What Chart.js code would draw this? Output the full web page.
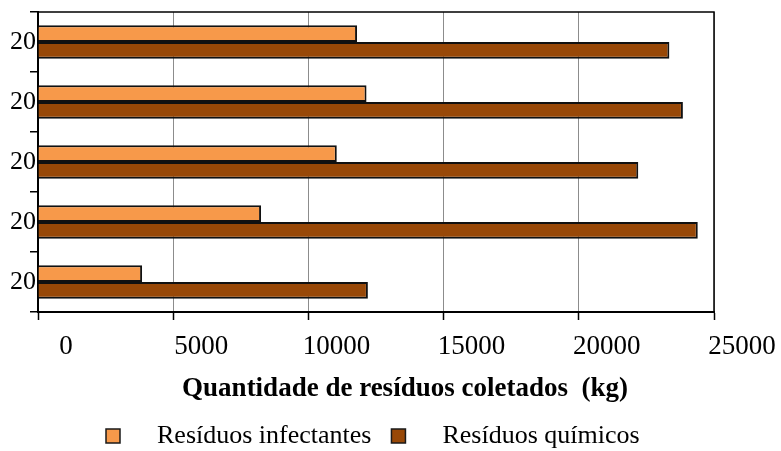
<!DOCTYPE html>
<html>
<head>
<meta charset="utf-8">
<script src="https://cdn.jsdelivr.net/npm/chart.js@4/dist/chart.umd.min.js"></script>
<style>
  html, body { margin: 0; padding: 0; background: #ffffff; }
  #wrap { width: 781px; height: 451px; }
</style>
</head>
<body>
<div id="wrap"><canvas id="c" width="781" height="451"></canvas></div>
<script>
// Categories (year labels as printed) and collected waste in kg
const categories = ['20', '20', '20', '20', '20'];
const infectantes = [11800, 12150, 11050, 8250, 3850];
const quimicos = [23350, 23850, 22200, 24400, 12200];
const seriesNames = ['Resíduos infectantes', 'Resíduos químicos'];
const seriesColors = ['#F7994A', '#984807'];
const xTickMin = 0;
const xTickMax = 25000;
const xTickStep = 5000;
const axisTitle = 'Quantidade de resíduos coletados  (kg)';

const SERIF = '"Liberation Serif", "Times New Roman", serif';

// Top and right frame of the plot area, axis title and legend
const framePlugin = {
  id: 'frameAndLegend',
  afterDraw(chart) {
    const { ctx, chartArea: a } = chart;
    ctx.save();
    ctx.strokeStyle = '#000000';
    ctx.lineWidth = 1.5;
    ctx.beginPath();
    ctx.moveTo(a.left, a.top);
    ctx.lineTo(a.right, a.top);
    ctx.lineTo(a.right, a.bottom);
    ctx.stroke();

    // axis title
    ctx.fillStyle = '#000000';
    ctx.font = 'bold 27px ' + SERIF;
    ctx.textAlign = 'center';
    ctx.textBaseline = 'alphabetic';
    ctx.fillText(axisTitle, (a.left + a.right) / 2 + 29, 396);

    // legend
    const box = 14;
    const gap = 37;
    const itemGap = 20;
    let x = 106;
    const baseY = 443;
    chart.data.datasets.forEach((ds) => {
      ctx.fillStyle = ds.backgroundColor;
      ctx.fillRect(x, baseY - 14, box, box);
      ctx.strokeStyle = '#1a1a1a';
      ctx.lineWidth = 1.5;
      ctx.strokeRect(x, baseY - 14, box, box);
      const tx = x + box + gap;
      ctx.fillStyle = '#000000';
      ctx.font = '26px ' + SERIF;
      ctx.textAlign = 'left';
      ctx.fillText(ds.label, tx, baseY);
      x = tx + ctx.measureText(ds.label).width + itemGap;
    });
    ctx.restore();
  }
};

new Chart(document.getElementById('c'), {
  type: 'bar',
  data: {
    labels: categories,
    datasets: [
      {
        label: seriesNames[0],
        data: infectantes,
        backgroundColor: seriesColors[0],
        borderColor: '#111111',
        borderWidth: 2,
        categoryPercentage: 0.56,
        barPercentage: 1.0
      },
      {
        label: seriesNames[1],
        data: quimicos,
        backgroundColor: seriesColors[1],
        borderColor: '#111111',
        borderWidth: 2,
        categoryPercentage: 0.56,
        barPercentage: 1.0
      }
    ]
  },
  options: {
    indexAxis: 'y',
    responsive: false,
    animation: false,
    layout: { padding: { top: 12, right: 67, left: 0, bottom: 0 } },
    plugins: {
      legend: { display: false },
      tooltip: { enabled: false }
    },
    scales: {
      x: {
        type: 'linear',
        min: xTickMin,
        max: xTickMax,
        ticks: {
          stepSize: xTickStep,
          color: '#000000',
          font: { family: SERIF, size: 27 },
          labelOffset: 28,
          padding: 11,
          maxRotation: 0,
          callback: (v) => String(v)
        },
        grid: {
          color: '#8c8c8c',
          lineWidth: 1,
          tickColor: '#000000',
          tickLength: 8,
          tickWidth: 1.5
        },
        border: { display: true, color: '#000000', width: 2 },
        afterFit(scale) { scale.height = 139; }
      },
      y: {
        type: 'category',
        ticks: {
          color: '#000000',
          font: { family: SERIF, size: 26 },
          padding: -6
        },
        grid: {
          offset: true,
          drawOnChartArea: false,
          color: '#000000',
          lineWidth: 1.5,
          tickLength: 8
        },
        border: { display: true, color: '#000000', width: 2 },
        afterFit(scale) { scale.width = 38; }
      }
    }
  },
  plugins: [framePlugin]
});
</script>
</body>
</html>
